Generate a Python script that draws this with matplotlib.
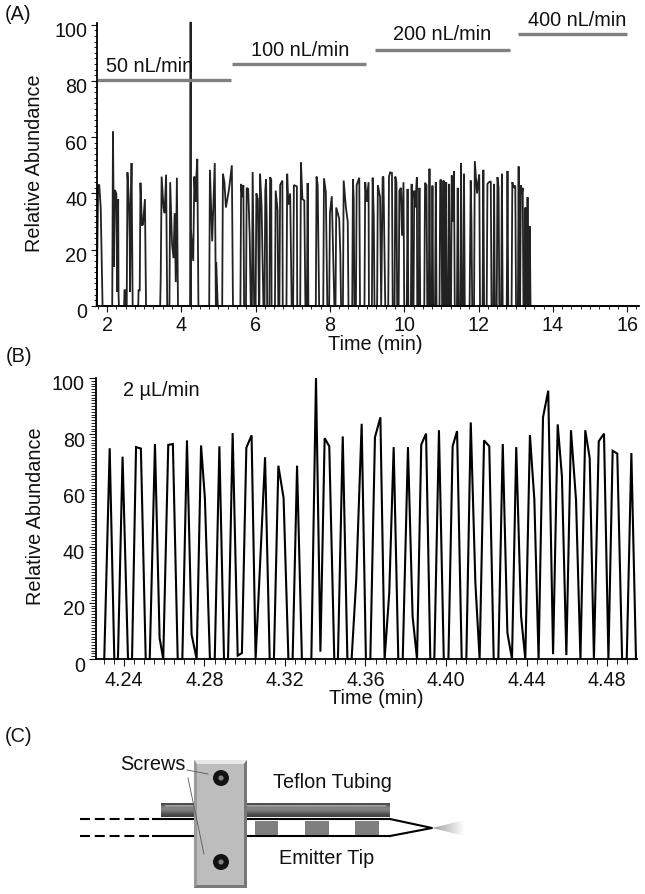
import matplotlib
matplotlib.use("Agg")
import matplotlib.pyplot as plt
import numpy as np
from matplotlib.patches import Rectangle, Circle, Polygon
from matplotlib.ticker import MultipleLocator, FixedLocator, FormatStrFormatter
from matplotlib.transforms import ScaledTranslation

plt.rcParams['font.family'] = ['Liberation Sans', 'DejaVu Sans']

W, H = 645, 894

# panel A, trace by flow rate section
t_50 = [1.72, 1.76, 1.79, 1.83, 1.88, 2.14, 2.16, 2.19, 2.21, 2.22, 2.25, 2.28, 2.30, 2.31, 2.32,
        2.46, 2.47, 2.50, 2.505, 2.53, 2.55, 2.59, 2.61, 2.62, 2.64, 2.66, 2.69, 2.84, 2.85, 2.88, 2.90, 2.94, 2.97,
        3.02, 3.05, 3.43, 3.445, 3.47, 3.52, 3.55, 3.59, 3.62, 3.68, 3.70, 3.75, 3.79, 3.82, 3.85, 3.88, 3.91,
        4.24, 4.25, 4.255, 4.26, 4.32, 4.35, 4.38, 4.40, 4.43, 4.46, 4.52, 4.75, 4.77, 4.83, 4.90, 4.93,
        4.94, 4.98, 5.10, 5.12, 5.16, 5.20, 5.285, 5.36, 5.39]
y_50 = [0, 43, 43, 35, 0, 0, 62, 14, 41, 41, 40, 5, 38, 4, 0,
        0, 5.6, 5.6, 0, 0, 47.5, 37, 23, 5, 35, 50.8, 0, 0, 5.6, 5.6, 43.8, 28.6, 29,
        38, 0, 0, 9.7, 46, 35, 33, 46.7, 0, 0, 44, 22, 17, 33, 8.5, 45.6, 0,
        0, 101, 0, 27, 16, 46, 37, 45, 52.3, 0, 0, 0, 48.4, 23, 50.8, 0,
        15.6, 0, 0, 47, 44, 35, 41.6, 50, 0]
t_100 = [5.59, 5.61, 5.64, 5.67, 5.69, 5.74, 5.76, 5.80, 5.84, 5.87, 5.90, 5.92, 5.96, 6.00, 6.02, 6.06, 6.09, 6.10, 6.12, 6.16, 6.21,
         6.24, 6.26, 6.28, 6.30, 6.31, 6.37, 6.39, 6.42, 6.43, 6.52, 6.54, 6.59, 6.61, 6.64, 6.66, 6.72, 6.73, 6.83, 6.85, 6.88,
         6.93, 6.97, 7.01, 7.03, 7.11, 7.12, 7.20, 7.22, 7.26, 7.31, 7.34, 7.38, 7.40, 7.42, 7.62, 7.64, 7.67, 7.71, 7.82, 7.84,
         7.89, 7.93, 7.98, 8.00, 8.05, 8.12, 8.15, 8.17, 8.25, 8.28, 8.30, 8.35, 8.37, 8.43, 8.48, 8.50, 8.60, 8.62, 8.64, 8.66,
         8.70, 8.72, 8.79, 8.81, 8.93, 8.95, 8.99, 9.04, 9.05, 9.13, 9.15, 9.18, 9.20]
y_100 = [0, 43.4, 38.7, 43, 0, 0, 42, 41.6, 25, 0, 0, 47.6, 0, 0, 40, 38, 0, 0, 47, 35.7, 0,
         0, 41, 45, 30, 0, 0, 45.8, 45, 0, 0, 41, 34, 0, 0, 43, 44.6, 0, 0, 47, 36,
         40, 0, 0, 43, 42.5, 0, 0, 51, 38, 37.5, 0, 0, 43.7, 0, 0, 46, 43, 0, 0, 45.4,
         40.5, 0, 0, 33, 39, 0, 0, 35, 31, 18.6, 0, 0, 44.6, 35, 30, 0, 0, 45, 38, 0,
         0, 43, 45.6, 0, 0, 44, 37, 44, 0, 0, 45.6, 32, 0]
t_200 = [9.27, 9.29, 9.35, 9.38, 9.42, 9.44, 9.49, 9.57, 9.59, 9.62, 9.67, 9.69, 9.74, 9.76, 9.79, 9.81,
         9.85, 9.87, 9.91, 9.94, 9.98, 10.00, 10.07, 10.09, 10.11, 10.18, 10.20, 10.22, 10.25, 10.27, 10.30, 10.34,
         10.35, 10.39, 10.41, 10.43, 10.54, 10.56, 10.60, 10.62, 10.66, 10.68, 10.70, 10.74, 10.76, 10.78, 10.83, 10.85,
         10.87, 10.95, 10.97, 11.00, 11.02, 11.04, 11.06, 11.08, 11.11, 11.13, 11.15, 11.19, 11.21, 11.23, 11.26, 11.28,
         11.30, 11.34, 11.36, 11.42, 11.44, 11.46, 11.51, 11.53, 11.55, 11.59, 11.61, 11.63, 11.76, 11.79, 11.81, 11.83,
         11.88, 11.90, 11.93, 11.96, 11.99, 12.02, 12.04, 12.11, 12.13, 12.15, 12.22, 12.24, 12.28, 12.33, 12.35, 12.40,
         12.42, 12.44, 12.49, 12.51, 12.54, 12.56, 12.61, 12.63, 12.65, 12.76, 12.78, 12.80]
y_200 = [0, 43, 38.7, 0, 46, 45.8, 0, 0, 46, 47.5, 47.3, 0, 0, 46, 44, 0,
         0, 41, 42, 25, 44, 0, 0, 41.6, 0, 0, 43.4, 0, 0, 41, 35, 45.8,
         0, 0, 42, 0, 0, 43.8, 43, 0, 0, 48.8, 0, 0, 42.8, 0, 0, 44,
         0, 0, 44.9, 44.6, 0, 0, 44.6, 0, 0, 44, 0, 0, 43.4, 0, 0, 46.4,
         30, 48, 0, 0, 42, 0, 0, 50.8, 0, 0, 47, 0, 0, 44.6, 30, 0,
         0, 51.5, 46, 40, 44, 46.7, 0, 0, 48.4, 0, 0, 43.4, 44, 44.3, 0, 0,
         43.4, 0, 0, 45.8, 42, 0, 0, 47, 0, 0, 48, 0]
t_400 = [12.89, 12.91, 12.95, 12.99, 13.01, 13.06, 13.08, 13.10, 13.12, 13.14, 13.17, 13.19, 13.21, 13.24, 13.26, 13.28,
         13.30, 13.32, 13.34, 13.37, 13.38, 13.40, 16.30]
y_400 = [0, 44, 42, 42.8, 0, 0, 49.6, 0, 0, 43, 40, 42, 0, 0, 35, 0,
         0, 38.7, 0, 0, 28.3, 0, 0]

flow_labels = ['50 nL/min', '100 nL/min', '200 nL/min', '400 nL/min']
flow_start = [1.73, 5.37, 9.22, 13.07]
flow_stop = [5.34, 8.97, 12.85, 16.00]
flow_level = [80.3, 86.0, 91.0, 96.8]

# panel B, single scans
t_b = [4.2302, 4.2329, 4.2352, 4.2370, 4.2393, 4.2420, 4.2440, 4.2460, 4.2484, 4.2508, 4.2528, 4.2554,
       4.2577, 4.2595, 4.2620, 4.2643, 4.2667, 4.2690, 4.2713, 4.2736, 4.2761, 4.2783, 4.2802, 4.2827,
       4.2851, 4.2874, 4.2897, 4.2917, 4.2940, 4.2965, 4.2986, 4.3008, 4.3034, 4.3054, 4.3079, 4.3101,
       4.3124, 4.3145, 4.3167, 4.3193, 4.3217, 4.3238, 4.3260, 4.3284, 4.3308, 4.3331, 4.3354, 4.3376,
       4.3397, 4.3420, 4.3445, 4.3463, 4.3487, 4.3510, 4.3531, 4.3554, 4.3581, 4.3602, 4.3624, 4.3647,
       4.3674, 4.3695, 4.3718, 4.3740, 4.3763, 4.3785, 4.3811, 4.3834, 4.3856, 4.3877, 4.3901, 4.3922,
       4.3942, 4.3965, 4.3989, 4.4012, 4.4033, 4.4055, 4.4078, 4.4101, 4.4123, 4.4146, 4.4167, 4.4189,
       4.4215, 4.4237, 4.4260, 4.4282, 4.4305, 4.4328, 4.4349, 4.4373, 4.4394, 4.4417, 4.4439, 4.4460,
       4.4482, 4.4508, 4.4532, 4.4555, 4.4576, 4.4598, 4.4621, 4.4646, 4.4668, 4.4692, 4.4714, 4.4735,
       4.4759, 4.4785, 4.4807, 4.4828, 4.4851, 4.4875, 4.4898, 4.4921, 4.4944]
y_b = [0, 75, 0, 0, 72, 0, 0, 75.4, 74.9, 0, 0, 76.5,
       7.5, 0, 76.2, 76.5, 0, 0, 77.8, 8.7, 0, 76, 57.3, 0,
       0, 75.7, 0, 0, 80.4, 1.2, 2.1, 75.2, 79.6, 0, 38, 71.8,
       0, 0, 68.8, 57.3, 0, 0, 68.8, 0, 0, 0, 100, 2.6,
       78.6, 75.7, 0, 0, 79.2, 0, 0, 28.2, 83.7, 0, 0, 78.9,
       86, 0, 23.5, 75.4, 0, 0, 75.4, 15.2, 0, 76.3, 80.2, 0,
       0, 81.4, 0, 0, 75.7, 81.1, 0, 0, 84.2, 27, 0, 77.8,
       75.7, 0, 0, 76.5, 9.3, 0, 75.4, 15.2, 0, 79.7, 56.7, 0,
       86, 95.5, 1.7, 83.5, 65, 1.4, 81.4, 56.7, 0, 81.4, 71.5, 0,
       77.5, 80.2, 0, 74.1, 73.1, 0, 0, 73.3, 0]


def px_axes(fig, left, top, right, bottom):
    return fig.add_axes([left / W, 1 - bottom / H, (right - left) / W, (bottom - top) / H])


def style_axes(ax, xmajor, xminor, yminor, fmt, major_len, minor_len, xpad):
    ax.spines['top'].set_visible(False)
    ax.spines['right'].set_visible(False)
    ax.spines['left'].set_linewidth(1.3)
    ax.spines['bottom'].set_linewidth(1.3)
    ax.set_yticks([0, 20, 40, 60, 80, 100])
    ax.yaxis.set_minor_locator(MultipleLocator(yminor))
    ax.xaxis.set_major_locator(FixedLocator(xmajor))
    ax.xaxis.set_minor_locator(MultipleLocator(xminor))
    ax.xaxis.set_major_formatter(FormatStrFormatter(fmt))
    ax.tick_params(axis='both', which='major', length=major_len, width=0.8, labelsize=14.2, colors='#111111')
    ax.tick_params(axis='both', which='minor', length=minor_len, width=0.7, color='#222222')
    ax.tick_params(axis='y', which='major', pad=3)
    ax.tick_params(axis='x', which='major', pad=xpad)
    # the y labels sit a little under their ticks in the original
    shift = ScaledTranslation(0, -5 / 100, fig.dpi_scale_trans)
    for lab in ax.get_yticklabels():
        lab.set_transform(lab.get_transform() + shift)
    ax.patch.set_alpha(0)


fig = plt.figure(figsize=(W / 100, H / 100), dpi=100, facecolor='white')

# (A)
ax_a = px_axes(fig, 97, 23, 639, 306)
ax_a.plot(t_50 + t_100 + t_200 + t_400, y_50 + y_100 + y_200 + y_400, color='#222222', lw=1.3,
          solid_joinstyle='miter', clip_on=False)
for start, stop, level in zip(flow_start, flow_stop, flow_level):
    ax_a.plot([start, stop], [level, level], color='#808080', lw=2.4, solid_capstyle='butt')
ax_a.set_xlim(1.73, 16.32)
ax_a.set_ylim(0, 100.6)
style_axes(ax_a, [2, 4, 6, 8, 10, 12, 14, 16], 0.25, 2, '%d', 4, 2.5, 3)

# (B)
ax_b = px_axes(fig, 96, 378, 637, 659)
ax_b.plot(t_b, y_b, color='black', lw=1.5, solid_joinstyle='miter', clip_on=False)
ax_b.set_xlim(4.2261, 4.4949)
ax_b.set_ylim(0, 100)
style_axes(ax_b, [4.24, 4.28, 4.32, 4.36, 4.40, 4.44, 4.48], 0.005, 1, '%.2f', 5, 3.5, 4)

# overlay in image pixels, for labels and the schematic
ov = fig.add_axes([0, 0, 1, 1])
ov.set_xlim(0, W)
ov.set_ylim(H, 0)
ov.axis('off')
ov.patch.set_alpha(0)

def label(x, y, s, size=14.3, **kw):
    ov.text(x, y, s, fontsize=size, ha=kw.pop('ha', 'center'), va='center', color='#111111', **kw)

label(5, 14, '(A)', ha='left')
label(6, 357, '(B)', ha='left')
label(5, 736, '(C)', ha='left')
label(35, 163, 'Relative Abundance', rotation=90)
label(36, 516, 'Relative Abundance', rotation=90)
label(375, 345, 'Time (min)')
label(376, 699, 'Time (min)')
label(150, 66, flow_labels[0])
label(300, 51, flow_labels[1])
label(442, 35, flow_labels[2])
label(577, 20, flow_labels[3])
label(161, 391, '2 µL/min')
label(153, 764, 'Screws')
label(332, 782, 'Teflon Tubing')
label(327, 858, 'Emitter Tip')

# emitter lines
for y in (819, 836):
    ov.plot([80, 153], [y, y], color='black', lw=1.5, dashes=(4.8, 2.3))
    ov.plot([153, 390], [y, y], color='black', lw=1.5)
ov.plot([390, 432, 390], [819, 828, 836], color='black', lw=1.5)

# tubing with shading
ramp = np.array([[0.30], [0.42], [0.52], [0.50], [0.42], [0.32], [0.25]])
ov.imshow(ramp, extent=[161, 390, 817, 803], cmap='gray', vmin=0, vmax=1, aspect='auto', zorder=2, interpolation='bilinear')
ov.add_patch(Rectangle((165, 805), 221, 1.5, color='#999999', lw=0, zorder=3))

# sample plugs
for x0, x1 in [(255, 278), (305, 329), (355, 379)]:
    ov.add_patch(Rectangle((x0, 821), x1 - x0, 14, color='#7f7f7f', lw=0, zorder=2))

# spray cone
spray = np.linspace(0.62, 1, 30).reshape(1, -1)
im = ov.imshow(spray, extent=[432, 465, 836, 820], cmap='gray', vmin=0, vmax=1, aspect='auto', zorder=2)
im.set_clip_path(Polygon([(432, 828), (465, 820), (465, 836)], transform=ov.transData))

# clamp block with bevel
ov.add_patch(Rectangle((194, 760), 53, 128, color='#8a8a8a', lw=0, zorder=4))
ov.add_patch(Polygon([(194, 760), (247, 760), (244, 764), (197, 764)], color='#e8e8e8', lw=0, zorder=5))
ov.add_patch(Polygon([(194, 760), (197, 764), (197, 885), (194, 888)], color='#9a9a9a', lw=0, zorder=5))
ov.add_patch(Polygon([(247, 760), (244, 764), (244, 885), (247, 888)], color='#777777', lw=0, zorder=5))
ov.add_patch(Polygon([(194, 888), (197, 885), (244, 885), (247, 888)], color='#7a7a7a', lw=0, zorder=5))
ov.add_patch(Rectangle((197, 764), 47, 121, color='#bdbdbd', lw=0, zorder=5))
for y in (778, 862):
    ov.add_patch(Circle((221, y), 8, color='#111111', lw=0, zorder=6))
    ov.add_patch(Circle((221, y), 2.6, color='#808080', lw=0, zorder=7))
ov.plot([187, 208], [770, 774], color='#555555', lw=0.6, zorder=6)
ov.plot([188, 204], [778, 854], color='#555555', lw=0.6, zorder=6)
ov.set_xlim(0, W)
ov.set_ylim(H, 0)

fig.savefig('out.png', dpi=100)
